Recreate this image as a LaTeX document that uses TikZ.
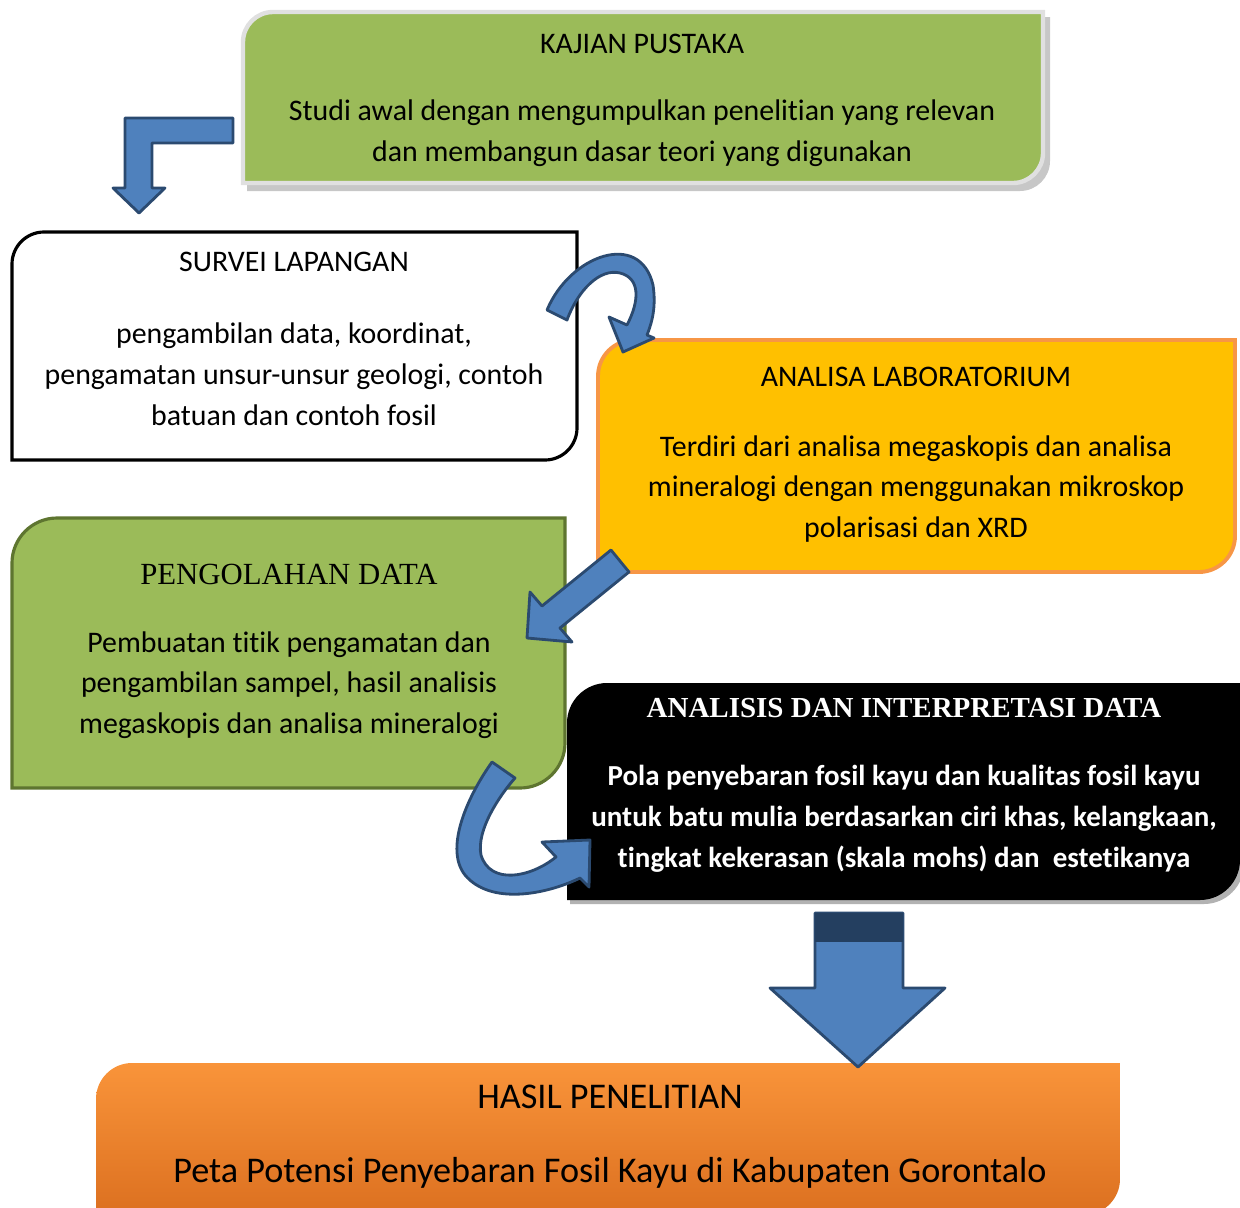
\documentclass[tikz,border=0pt]{standalone}
\usepackage{fontspec}
\setmainfont{Carlito}[Ligatures=NoCommon]
\newfontfamily\romanfont{Liberation Serif}
\usetikzlibrary{calc}
\definecolor{arrowblue}{HTML}{4F81BD}
\definecolor{arrowedge}{HTML}{2B4A70}
\definecolor{navyband}{HTML}{243F60}
\definecolor{leafgreen}{HTML}{9BBB59}
\definecolor{mossgreen}{HTML}{5E7530}
\definecolor{amber}{HTML}{FFC000}
\definecolor{peach}{HTML}{F79646}
\definecolor{orangetop}{HTML}{F9943A}
\definecolor{orangebot}{HTML}{DC7020}
\tikzset{
    blockarrow/.style={fill=arrowblue, draw=arrowedge, line width=1.6pt, line join=round},
    boxtext/.style={align=center, inner sep=0pt, font=\fontsize{17}{23.2}\selectfont},
    bigtext/.style={align=center, inner sep=0pt, font=\fontsize{20.6}{24}\selectfont}
}
% box with rounded top-left and bottom-right corners: x1 y1 x2 y2 radius style
\newcommand{\diagpanel}[6]{%
  \path[#6] (#1,#4) -- (#1,#2+#5) .. controls (#1,#2+0.45*#5) and (#1+0.45*#5,#2) .. (#1+#5,#2)
    -- (#3,#2) -- (#3,#4-#5) .. controls (#3,#4-0.45*#5) and (#3-0.45*#5,#4) .. (#3-#5,#4) -- cycle;}

\begin{document}
\begin{tikzpicture}[x=0.02cm, y=-0.02cm]
\useasboundingbox (0,0) rectangle (1240,1207);
\clip (0,0) rectangle (1240,1207);

% boxes
\diagpanel{247}{17}{1050}{191}{30}{fill=black!22}
\diagpanel{243}{12}{1043}{183}{30}{fill=leafgreen, draw=black!12, line width=2.5pt}
\diagpanel{12}{232}{577}{460}{32}{fill=white, draw=black, line width=1.8pt}
\diagpanel{598}{340}{1235}{572}{36}{fill=amber, draw=peach, line width=2.2pt}
\diagpanel{12}{518}{565}{788}{45}{fill=leafgreen, draw=mossgreen, line width=1.8pt}
\diagpanel{570}{687}{1244}{904}{40}{fill=black!30}
\diagpanel{567}{683}{1240}{900}{40}{fill=black}
\diagpanel{96}{1063}{1120}{1215}{36}{top color=orangetop, bottom color=orangebot}

% texts
\node[boxtext] (kajian-title) at (642,44) {KAJIAN PUSTAKA};
\node[boxtext] (kajian-body) at (642,133) {Studi awal dengan mengumpulkan penelitian yang relevan\\dan membangun dasar teori yang digunakan};

\node[boxtext] (survei-title) at (294,262) {SURVEI LAPANGAN};
\node[boxtext] (survei-body) at (294,374) {pengambilan data, koordinat,\\pengamatan unsur-unsur geologi, contoh\\batuan dan contoh fosil};

\node[boxtext] (lab-title) at (916,377) {ANALISA LABORATORIUM};
\node[boxtext] (lab-body) at (916,489) {Terdiri dari analisa megaskopis dan analisa\\mineralogi dengan menggunakan mikroskop\\polarisasi dan XRD};

\node[boxtext, font=\romanfont\fontsize{17.5}{23.2}\selectfont] (olah-title) at (289,574) {PENGOLAHAN DATA};
\node[boxtext] (olah-body) at (289,685) {Pembuatan titik pengamatan dan\\pengambilan sampel, hasil analisis\\megaskopis dan analisa mineralogi};

\node[boxtext, text=white, font=\romanfont\bfseries\fontsize{16.5}{23.2}\selectfont] (tafsir-title) at (904,708) {ANALISIS DAN INTERPRETASI DATA};
\node[boxtext, text=white, font=\bfseries\fontsize{16.5}{23.2}\selectfont] (tafsir-body) at (904,819) {Pola penyebaran fosil kayu dan kualitas fosil kayu\\untuk batu mulia berdasarkan ciri khas, kelangkaan,\\tingkat kekerasan (skala mohs) dan~ estetikanya};

\node[bigtext] (hasil-title) at (610,1097) {HASIL PENELITIAN};
\node[bigtext] (hasil-body) at (610,1173) {Peta Potensi Penyebaran Fosil Kayu di Kabupaten Gorontalo};

% bent arrow kajian -> survei
\filldraw[blockarrow] (233,118) -- (125,118) -- (125,188) -- (113,188) -- (139,213) -- (165,188)
  -- (152,188) -- (152,143) -- (233,143) -- cycle;

% curved arrow survei -> lab
\filldraw[blockarrow] (547,310) .. controls (570,255) and (640,230) .. (653,285)
  .. controls (656,305) and (653,320) .. (647,335) -- (654,338) -- (623,352) -- (609,317) -- (627,325)
  .. controls (640,300) and (640,278) .. (620,273) .. controls (600,268) and (578,290) .. (567,320) -- cycle;

% straight arrow lab -> olah
\filldraw[blockarrow] (611,550) -- (542,606) -- (530,592) -- (527,638) -- (572,642) -- (560,628) -- (629,572) -- cycle;

% curved arrow olah -> tafsir
\filldraw[blockarrow] (492,762) .. controls (465,800) and (445,850) .. (465,875)
  .. controls (490,905) and (545,895) .. (580,878) -- (589,887) -- (590,840) -- (542,842) -- (556,857)
  .. controls (530,878) and (490,885) .. (481,855) .. controls (476,830) and (500,795) .. (515,778) -- cycle;

% down arrow tafsir -> hasil
\filldraw[blockarrow] (815,913) -- (815,988) -- (770,988) -- (858,1067) -- (945,988) -- (903,988) -- (903,913) -- cycle;
\fill[navyband] (815,913) rectangle (903,942);

\end{tikzpicture}
\end{document}
